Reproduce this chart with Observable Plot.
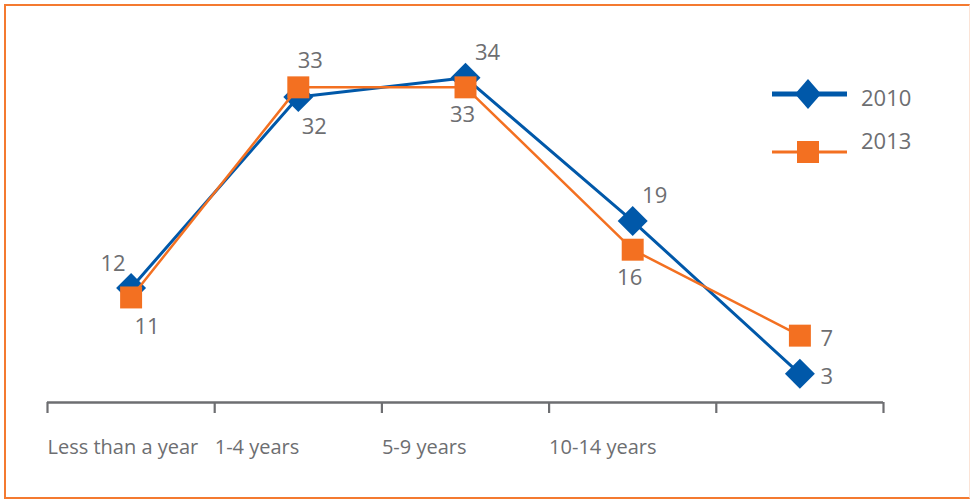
<!DOCTYPE html>
<html>
<head>
<meta charset="utf-8">
<script src="https://cdn.jsdelivr.net/npm/d3@7"></script>
<script src="https://cdn.jsdelivr.net/npm/@observablehq/plot@0.6"></script>
<style>
  html, body { margin: 0; padding: 0; background: #fff; }
  #wrap { position: relative; width: 970px; height: 499px; overflow: hidden; font-family: "Open Sans", sans-serif; }
  #frame {
    position: absolute; left: 4px; top: 4px; width: 966px; height: 495px; box-sizing: border-box;
    border: 2.5px solid #f47a30; border-right: 1px solid #fbe3d6; pointer-events: none;
  }
  #legend { position: absolute; left: 760px; top: 70px; }
  svg [aria-label="x-axis tick"] { stroke-width: 2.2; }
</style>
</head>
<body>
<div id="wrap">
  <div id="chart"></div>
  <svg id="legend" width="190" height="110"></svg>
  <div id="frame"></div>
</div>
<script>
// Years of service, share of respondents (%)
const categories = ["Less than a year", "1-4 years", "5-9 years", "10-14 years", "15+ years"];
const tickLabels = ["Less than a year", "1-4 years", "5-9 years", "10-14 years", ""];
const values2010 = [12, 32, 34, 19, 3];
const values2013 = [11, 33, 33, 16, 7];

// where each value label sits around its marker
const labelSide2010 = ["upLeft", "downRight", "upRight", "upRight", "right"];
const labelSide2013 = ["downRight", "up", "down", "down", "right"];

const blue = "#0058a9";
const orange = "#f37021";
const grey = "#6d6e71";

const offsets = {
  upLeft:    {dx: -18, dy: -24},
  upRight:   {dx: 22,  dy: -25},
  up:        {dx: 12,  dy: -26},
  downRight: {dx: 16,  dy: 30},
  down:      {dx: -3,  dy: 28},
  right:     {dx: 27,  dy: 3}
};

const rows = (vals, sides) => vals.map((v, i) => ({i, v, side: sides[i], cat: categories[i]}));
const s2010 = rows(values2010, labelSide2010);
const s2013 = rows(values2013, labelSide2013);

const boundaries = d3.range(categories.length + 1).map(k => k - 0.5);

const labelMarks = (data, fill) => Object.entries(offsets).map(([side, o]) =>
  Plot.text(data.filter(d => d.side === side), {
    x: "i", y: "v", text: d => String(d.v), dx: o.dx, dy: o.dy,
    fill, fontSize: 22
  })
);

const chart = Plot.plot({
  width: 970,
  height: 499,
  marginLeft: 47,
  marginRight: 87,
  marginTop: 20,
  marginBottom: 97,
  style: {fontFamily: "'Open Sans', sans-serif", color: grey, background: "transparent"},
  x: {
    type: "linear",
    domain: [-0.5, categories.length - 0.5],
    ticks: boundaries,
    tickSize: 11,
    tickFormat: () => "",
    label: null
  },
  y: {domain: [0, 40], axis: null},
  marks: [
    Plot.ruleY([0], {stroke: grey, strokeWidth: 2.5}),
    Plot.text(tickLabels, {
      x: (d, k) => k - 0.5, text: d => d, frameAnchor: "bottom",
      textAnchor: "start", dy: 51, fill: grey, fontSize: 20
    }),
    Plot.line(s2010, {x: "i", y: "v", stroke: blue, strokeWidth: 3}),
    Plot.dot(s2010, {x: "i", y: "v", symbol: "diamond2", r: 13.5, fill: blue, stroke: "none"}),
    Plot.line(s2013, {x: "i", y: "v", stroke: orange, strokeWidth: 2.5}),
    Plot.dot(s2013, {x: "i", y: "v", symbol: "square", r: 12.4, fill: orange, stroke: "none"}),
    ...labelMarks(s2010, grey),
    ...labelMarks(s2013, grey)
  ]
});
document.getElementById("chart").appendChild(chart);

// legend
const legend = d3.select("#legend");
const items = [
  {name: "2010", color: blue, width: 5, lineY: 24, textY: 28, shape: "diamond"},
  {name: "2013", color: orange, width: 3, lineY: 82, textY: 71, shape: "square"}
];
for (const it of items) {
  legend.append("line").attr("x1", 12).attr("x2", 87).attr("y1", it.lineY).attr("y2", it.lineY)
    .attr("stroke", it.color).attr("stroke-width", it.width);
  if (it.shape === "diamond") {
    legend.append("path").attr("d", `M48,${it.lineY - 15}L61,${it.lineY}L48,${it.lineY + 15}L35,${it.lineY}Z`).attr("fill", it.color);
  } else {
    legend.append("rect").attr("x", 37).attr("y", it.lineY - 11).attr("width", 22).attr("height", 22).attr("fill", it.color);
  }
  legend.append("text").attr("x", 101).attr("y", it.textY).attr("dy", "0.35em")
    .attr("fill", grey).attr("font-size", 22).attr("font-family", "'Open Sans', sans-serif").text(it.name);
}
</script>
</body>
</html>
